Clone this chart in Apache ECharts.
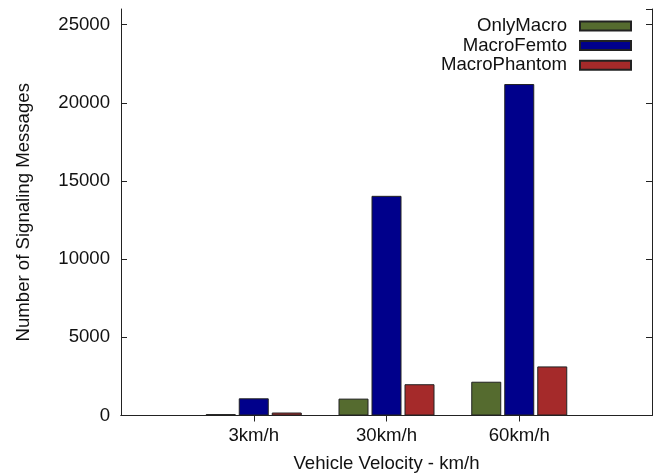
<!DOCTYPE html>
<html>
<head>
<meta charset="utf-8">
<script src="https://cdn.jsdelivr.net/npm/echarts@6/dist/echarts.min.js"></script>
<style>html,body{margin:0;padding:0;background:#fff;}#c{width:659px;height:475px;}</style>
</head>
<body>
<div id="c"></div>
<script>
var categories = ['', '3km/h', '30km/h', '60km/h', ''];
var onlyMacro = [null, 90, 1080, 2160, null];
var macroFemto = [null, 1100, 14050, 21200, null];
var macroPhantom = [null, 190, 2000, 3140, null];
var seriesNames = ['OnlyMacro', 'MacroFemto', 'MacroPhantom'];
var colors = ['#556B2F', '#00008B', '#A52A2A'];
var yMin = 0, yMax = 26000, yInterval = 5000;

var FONT = "'Liberation Sans', Arial, Helvetica, sans-serif";
var FS = 18.6;
var chart = echarts.init(document.getElementById('c'), null, {renderer: 'canvas'});
var lineStyle = {color: '#222', width: 1};
function tickShow(i, v) { return v !== ''; }
var barStyle = function (c) { return {color: c, borderColor: '#222', borderWidth: 1}; };
chart.setOption({
  animation: false,
  backgroundColor: '#fff',
  textStyle: {fontFamily: FONT},
  grid: {left: 121, right: 7, top: 9, bottom: 59.5, containLabel: false, outerBoundsMode: 'none'},
  legend: {
    orient: 'vertical', right: 22, top: 11.5, align: 'right',
    itemWidth: 51, itemHeight: 9, itemGap: 0.6, selectedMode: false,
    icon: 'rect',
    data: seriesNames,
    textStyle: {fontFamily: FONT, fontSize: FS, color: '#111', lineHeight: 19, padding: [0, 8, 0, 0]}
  },
  xAxis: [{
    type: 'category', data: categories, boundaryGap: false, position: 'bottom',
    axisLine: {show: true, lineStyle: lineStyle},
    axisTick: {show: true, inside: true, length: 6, interval: tickShow, lineStyle: lineStyle},
    axisLabel: {fontFamily: FONT, fontSize: FS, color: '#111', margin: 11, interval: 0},
    name: 'Vehicle Velocity - km/h', nameLocation: 'middle', nameGap: 39,
    nameTextStyle: {fontFamily: FONT, fontSize: FS, color: '#111'},
    splitLine: {show: false}
  }, {
    type: 'category', data: categories, boundaryGap: false, position: 'top',
    axisLine: {show: true, lineStyle: lineStyle},
    axisTick: {show: true, inside: true, length: 6, interval: tickShow, lineStyle: lineStyle},
    axisLabel: {show: false}, splitLine: {show: false}
  }],
  yAxis: [{
    type: 'value', min: yMin, max: yMax, interval: yInterval, position: 'left',
    axisLine: {show: true, lineStyle: lineStyle},
    axisTick: {show: true, inside: true, length: 6, lineStyle: lineStyle},
    axisLabel: {fontFamily: FONT, fontSize: FS, color: '#111', margin: 11, showMaxLabel: false,
      formatter: function (v) { return String(v); }},
    splitLine: {show: false},
    name: 'Number of Signaling Messages', nameLocation: 'middle', nameGap: 88, nameRotate: 90,
    nameTextStyle: {fontFamily: FONT, fontSize: FS, color: '#111'}
  }, {
    type: 'value', min: yMin, max: yMax, interval: yInterval, position: 'right',
    axisLine: {show: true, lineStyle: lineStyle},
    axisTick: {show: true, inside: true, length: 6, lineStyle: lineStyle},
    axisLabel: {show: false}, splitLine: {show: false}
  }],
  series: [
    {name: seriesNames[0], type: 'bar', data: onlyMacro, barWidth: 30, barGap: '10%', itemStyle: barStyle(colors[0]), xAxisIndex: 0, yAxisIndex: 0},
    {name: seriesNames[1], type: 'bar', data: macroFemto, barWidth: 30, barGap: '10%', itemStyle: barStyle(colors[1]), xAxisIndex: 0, yAxisIndex: 0},
    {name: seriesNames[2], type: 'bar', data: macroPhantom, barWidth: 30, barGap: '10%', itemStyle: barStyle(colors[2]), xAxisIndex: 0, yAxisIndex: 0}
  ]
});
</script>
</body>
</html>
